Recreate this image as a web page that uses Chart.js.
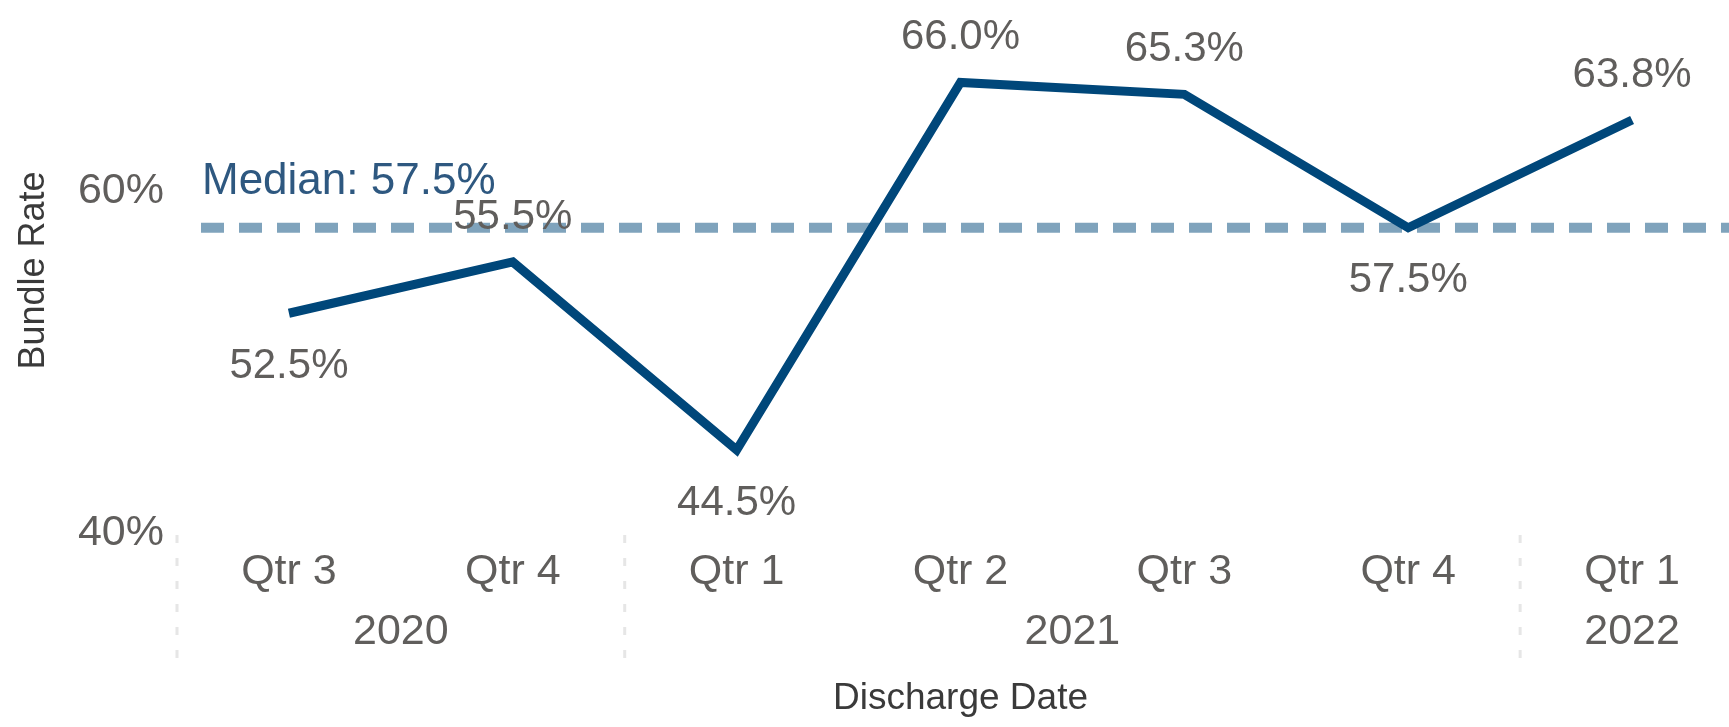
<!DOCTYPE html>
<html>
<head>
<meta charset="utf-8">
<script src="https://cdn.jsdelivr.net/npm/chart.js@4/dist/chart.umd.min.js"></script>
<style>
  html, body { margin: 0; padding: 0; background: #fff; overflow: hidden; }
  #wrap { width: 1744px; height: 727px; }
</style>
</head>
<body>
<div id="wrap"><canvas id="chart1"></canvas></div>
<script>
const quarters = ['Qtr 3', 'Qtr 4', 'Qtr 1', 'Qtr 2', 'Qtr 3', 'Qtr 4', 'Qtr 1'];
const years = ['2020', '2020', '2021', '2021', '2021', '2021', '2022'];
const bundleRate = [52.5, 55.5, 44.5, 66.0, 65.3, 57.5, 63.8];
const median = 57.5;
const yTicks = [40, 60];

const FONT = '"Liberation Sans", Arial, sans-serif';
const labelGray = '#605e5c';
const lineBlue = '#00477a';

const overlay = {
  id: 'overlay',
  beforeDatasetsDraw(chart) {
    const { ctx, chartArea } = chart;
    const y = chart.scales.y.getPixelForValue(median);
    ctx.save();
    // median reference line
    ctx.strokeStyle = 'rgba(0, 71, 122, 0.5)';
    ctx.lineWidth = 10;
    ctx.setLineDash([23, 15]);
    ctx.beginPath();
    ctx.moveTo(chartArea.left + 24, y);
    ctx.lineTo(chartArea.right, y);
    ctx.stroke();
    ctx.setLineDash([]);
    ctx.fillStyle = '#2e5880';
    ctx.font = '44px ' + FONT;
    ctx.textAlign = 'left';
    ctx.textBaseline = 'middle';
    ctx.fillText('Median: ' + median.toFixed(1) + '%', chartArea.left + 25, y - 46);
    ctx.restore();
  },
  afterDatasetsDraw(chart) {
    const { ctx } = chart;
    const pts = chart.getDatasetMeta(0).data;
    ctx.save();
    ctx.fillStyle = labelGray;
    ctx.font = '42px ' + FONT;
    ctx.textAlign = 'center';
    ctx.textBaseline = 'middle';
    bundleRate.forEach((v, i) => {
      const prev = i > 0 ? bundleRate[i - 1] : Infinity;
      const next = i < bundleRate.length - 1 ? bundleRate[i + 1] : Infinity;
      const below = v < prev && v < next;
      const p = pts[i];
      ctx.fillText(v.toFixed(1) + '%', p.x, p.y + (below ? 53 : -45));
    });
    ctx.restore();
  },
  afterDraw(chart) {
    const { ctx } = chart;
    const x = chart.scales.x;
    const half = (x.getPixelForValue(1) - x.getPixelForValue(0)) / 2;
    ctx.save();
    // year groups
    let start = 0;
    for (let i = 1; i <= years.length; i++) {
      if (i === years.length || years[i] !== years[start]) {
        const cx = (x.getPixelForValue(start) + x.getPixelForValue(i - 1)) / 2;
        ctx.fillStyle = labelGray;
        ctx.font = '43px ' + FONT;
        ctx.textAlign = 'center';
        ctx.textBaseline = 'middle';
        ctx.fillText(years[start], cx, 632);
        // dotted separator at group start
        const sx = x.getPixelForValue(start) - half;
        ctx.strokeStyle = '#e6e6e6';
        ctx.lineWidth = 3;
        ctx.setLineDash([8, 15]);
        ctx.beginPath();
        ctx.moveTo(sx, 535);
        ctx.lineTo(sx, 660);
        ctx.stroke();
        ctx.setLineDash([]);
        start = i;
      }
    }
    ctx.restore();
  }
};

new Chart(document.getElementById('chart1'), {
  type: 'line',
  data: {
    labels: quarters,
    datasets: [{
      label: 'Bundle Rate',
      data: bundleRate,
      borderColor: lineBlue,
      borderWidth: 9,
      borderJoinStyle: 'miter',
      pointRadius: 0,
      tension: 0,
      fill: false
    }]
  },
  options: {
    responsive: true,
    maintainAspectRatio: false,
    animation: false,
    layout: { padding: { top: 14, left: 0, right: 0, bottom: 0 } },
    plugins: {
      legend: { display: false },
      tooltip: { enabled: false }
    },
    scales: {
      x: {
        offset: true,
        grid: { display: false, drawTicks: false },
        border: { display: false },
        ticks: {
          color: labelGray,
          font: { family: FONT, size: 43, lineHeight: 1 },
          padding: 24,
          maxRotation: 0,
          autoSkip: false
        },
        title: {
          display: true,
          text: 'Discharge Date',
          color: '#3a3a3a',
          font: { family: FONT, size: 37, lineHeight: 1 },
          padding: { top: 0, bottom: 10 }
        },
        afterFit(scale) { scale.height = 200; }
      },
      y: {
        min: 40,
        max: 70,
        grid: { display: false, drawTicks: false },
        border: { display: false },
        afterBuildTicks(scale) { scale.ticks = yTicks.map(v => ({ value: v })); },
        ticks: {
          color: labelGray,
          font: { family: FONT, size: 43, lineHeight: 1 },
          padding: 13,
          labelOffset: 6,
          callback: v => v + '%'
        },
        title: {
          display: true,
          text: 'Bundle Rate',
          color: '#3a3a3a',
          font: { family: FONT, size: 36, lineHeight: 1 },
          padding: { top: 16, bottom: 0 }
        },
        afterFit(scale) {
          scale.width = 177;
          scale.paddingTop = 0;
          scale.paddingBottom = 0;
        }
      }
    }
  },
  plugins: [overlay]
});
</script>
</body>
</html>
